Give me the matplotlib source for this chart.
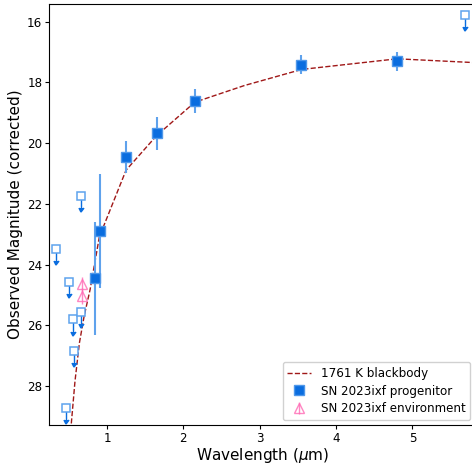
import numpy as np
import matplotlib
matplotlib.use("Agg")
import matplotlib.pyplot as plt

# 1761 K blackbody model, sampled in wavelength (micron) and magnitude
bb_wave = [0.532, 0.58, 0.637, 0.70, 0.777, 0.899, 1.249, 1.65, 2.15, 2.8, 3.55, 4.8, 5.85]
bb_mag = [29.24, 27.85, 26.60, 25.70, 24.84, 23.09, 20.89, 19.75, 18.65, 18.10, 17.57, 17.22, 17.35]

# Progenitor detections
det_wave = [0.843, 0.904, 1.245, 1.655, 2.15, 3.54, 4.8]
det_mag = [24.46, 22.89, 20.47, 19.68, 18.62, 17.41, 17.30]
det_err = [1.85, 1.87, 0.53, 0.55, 0.40, 0.32, 0.32]

# Progenitor upper limits
lim_wave = [0.33, 0.459, 0.502, 0.56, 0.568, 0.655, 0.66, 5.69]
lim_mag = [23.49, 28.74, 24.58, 25.81, 26.84, 25.56, 21.75, 15.78]

# Environment measurements
env_wave = [0.673, 0.673]
env_mag = [24.65, 25.04]
env_err = [0.25, 0.25]

blue = "#0a6ddf"
pink = "#ff69b4"

fig = plt.figure(figsize=(4.72, 4.66), dpi=100)
ax = fig.add_axes([0.1045, 0.088, 0.902, 0.903])
ax.set_xlim(0.244, 5.82)
ax.set_ylim(29.29, 15.42)

ax.plot(bb_wave, bb_mag, ls="--", color="#a01818", lw=1.0, label="1761 K blackbody", zorder=2)

ax.errorbar(det_wave, det_mag, yerr=det_err, fmt="s", color=blue, ms=6.8,
            mec="#4f98ea", ecolor="#5fa2ec", elinewidth=1.5, capsize=0,
            label="SN 2023ixf progenitor", zorder=4)

ax.errorbar(lim_wave, lim_mag, yerr=0.4, lolims=True, fmt="s", mfc="white",
            mec="#5ea3ee", mew=1.1, ms=6.2, color=blue, ecolor=blue,
            elinewidth=1.0, capsize=1.8, zorder=3)

ax.errorbar(env_wave, env_mag, yerr=env_err, fmt="^", mfc="none", mec=pink,
            ms=7, mew=1.0, ecolor=pink, elinewidth=1.0, capsize=0, alpha=0.8,
            label="SN 2023ixf environment", zorder=3)

ax.set_xlabel("Wavelength ($\\mu$m)", fontsize=11, labelpad=1)
ax.set_ylabel("Observed Magnitude (corrected)", fontsize=11, labelpad=3)
ax.tick_params(labelsize=8.6, length=3, pad=2)

ax.legend(loc="lower right", fontsize=8.6, framealpha=0.9, labelspacing=0.4,
          borderaxespad=0.4)

fig.savefig("out.png", dpi=100)
